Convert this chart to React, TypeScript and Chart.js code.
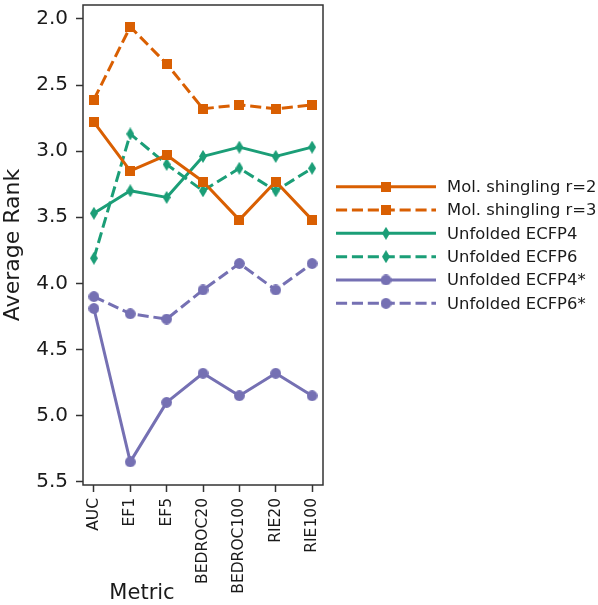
import React, { useEffect, useRef } from 'react';
import { Chart, registerables } from 'chart.js';

Chart.register(...registerables);

// ---- data ----
const categories = ['AUC', 'EF1', 'EF5', 'BEDROC20', 'BEDROC100', 'RIE20', 'RIE100'];
const yTickValues = [2.0, 2.5, 3.0, 3.5, 4.0, 4.5, 5.0, 5.5];

const molShinglingR2 = [2.78, 3.15, 3.03, 3.23, 3.52, 3.23, 3.52];
const molShinglingR3 = [2.61, 2.06, 2.34, 2.68, 2.65, 2.68, 2.65];
const unfoldedECFP4 = [3.47, 3.3, 3.35, 3.04, 2.97, 3.04, 2.97];
const unfoldedECFP6 = [3.81, 2.87, 3.1, 3.3, 3.13, 3.3, 3.13];
const unfoldedECFP4Star = [4.19, 5.35, 4.9, 4.68, 4.85, 4.68, 4.85];
const unfoldedECFP6Star = [4.1, 4.23, 4.27, 4.05, 3.85, 4.05, 3.85];

const seriesLabels = [
  'Mol. shingling r=2',
  'Mol. shingling r=3',
  'Unfolded ECFP4',
  'Unfolded ECFP6',
  'Unfolded ECFP4*',
  'Unfolded ECFP6*',
];

const ORANGE = '#d95f02';
const GREEN = '#1b9e77';
const PURPLE = '#7570b3';
const FONT = '"DejaVu Sans", sans-serif';
const AXIS = '#333333';
const TEXT = '#1a1a1a';
const DASH = [11.1, 4.8];
const LW = 3;

function makeMarker(kind: string, color: string): HTMLCanvasElement {
  const c = document.createElement('canvas');
  let w = 11, h = 11;
  if (kind === 'square') { w = 10; h = 10; }
  if (kind === 'diamond') { w = 8; h = 13; }
  c.width = w; c.height = h;
  const g = c.getContext('2d')!;
  g.fillStyle = color;
  g.beginPath();
  if (kind === 'square') {
    g.rect(0, 0, w, h);
  } else if (kind === 'diamond') {
    g.moveTo(w / 2, 0);
    g.lineTo(w, h / 2);
    g.lineTo(w / 2, h);
    g.lineTo(0, h / 2);
    g.closePath();
  } else {
    g.arc(w / 2, h / 2, 5.4, 0, Math.PI * 2);
  }
  g.fill();
  return c;
}

const decorPlugin = {
  id: 'decor',
  afterDatasetsDraw(chart: any) {
    const { ctx, chartArea: a } = chart;
    ctx.save();
    ctx.strokeStyle = AXIS;
    ctx.lineWidth = 1.5;
    ctx.setLineDash([]);
    ctx.strokeRect(a.left, a.top, a.right - a.left, a.bottom - a.top);
    ctx.restore();
  },
  afterDraw(chart: any) {
    const { ctx, chartArea: a } = chart;
    const datasets = chart.data.datasets;
    const n = datasets.length;
    const rowH = 23.33;
    const cy = (a.top + a.bottom) / 2;
    ctx.save();
    datasets.forEach((ds: any, i: number) => {
      const y = cy + (i - (n - 1) / 2) * rowH;
      const x0 = a.right + 13;
      const x1 = a.right + 113;
      ctx.beginPath();
      ctx.strokeStyle = ds.borderColor;
      ctx.lineWidth = LW;
      ctx.lineCap = 'butt';
      ctx.setLineDash(ds.borderDash || []);
      ctx.moveTo(x0, y);
      ctx.lineTo(x1, y);
      ctx.stroke();
      ctx.setLineDash([]);
      const m: HTMLCanvasElement = ds.pointStyle;
      ctx.drawImage(m, (x0 + x1) / 2 - m.width / 2, y - m.height / 2);
      ctx.fillStyle = TEXT;
      ctx.font = `16.4px ${FONT}`;
      ctx.textAlign = 'left';
      ctx.textBaseline = 'middle';
      ctx.fillText(ds.label, a.right + 124, y + 1);
    });
    // x-axis title
    ctx.fillStyle = TEXT;
    ctx.font = `21px ${FONT}`;
    ctx.textAlign = 'center';
    ctx.textBaseline = 'alphabetic';
    ctx.fillText('Metric', a.left + 59, 599);
    ctx.restore();
  },
};

export default function App() {
  const ref = useRef<HTMLCanvasElement | null>(null);

  useEffect(() => {
    if (!ref.current) return;
    const mk = (label: string, values: number[], color: string, marker: string, dashed: boolean) => ({
      label,
      data: values.map((v, i) => ({ x: i, y: v })),
      borderColor: color,
      backgroundColor: color,
      borderWidth: LW,
      borderDash: dashed ? DASH : [],
      borderCapStyle: 'butt',
      borderJoinStyle: 'round',
      pointStyle: makeMarker(marker, color),
      pointRadius: 5,
      pointHoverRadius: 5,
      pointBorderWidth: 0,
      tension: 0,
      fill: false,
    });
    const chart = new Chart(ref.current, {
      type: 'line',
      data: {
        datasets: [
          mk(seriesLabels[0], molShinglingR2, ORANGE, 'square', false),
          mk(seriesLabels[1], molShinglingR3, ORANGE, 'square', true),
          mk(seriesLabels[2], unfoldedECFP4, GREEN, 'diamond', false),
          mk(seriesLabels[3], unfoldedECFP6, GREEN, 'diamond', true),
          mk(seriesLabels[4], unfoldedECFP4Star, PURPLE, 'circle', false),
          mk(seriesLabels[5], unfoldedECFP6Star, PURPLE, 'circle', true),
        ] as any,
      },
      options: {
        responsive: false,
        devicePixelRatio: 1,
        animation: false,
        events: [],
        layout: { padding: { left: 0, top: 4, right: 275, bottom: 0 } },
        plugins: {
          legend: { display: false },
          tooltip: { enabled: false },
        },
        scales: {
          x: {
            type: 'linear',
            min: -0.3,
            max: 6.3,
            afterBuildTicks: (s: any) => {
              s.ticks = categories.map((_, i) => ({ value: i }));
            },
            afterFit: (s: any) => {
              s.height = 120;
              s.paddingLeft = 0;
              s.paddingRight = 0;
            },
            grid: {
              display: true,
              drawOnChartArea: false,
              drawTicks: true,
              tickLength: 7,
              tickWidth: 1.5,
              tickColor: AXIS,
              color: AXIS,
            },
            border: { display: false },
            ticks: {
              autoSkip: false,
              minRotation: 90,
              maxRotation: 90,
              padding: 6,
              color: TEXT,
              font: { family: FONT, size: 15.5 },
              callback: (v: any) => categories[v] ?? '',
            },
          },
          y: {
            type: 'linear',
            reverse: true,
            min: 1.895,
            max: 5.525,
            afterBuildTicks: (s: any) => {
              s.ticks = yTickValues.map((v) => ({ value: v }));
            },
            afterFit: (s: any) => {
              s.width = 83;
              s.paddingTop = 0;
              s.paddingBottom = 0;
            },
            grid: {
              display: true,
              drawOnChartArea: false,
              drawTicks: true,
              tickLength: 7,
              tickWidth: 1.5,
              tickColor: AXIS,
              color: AXIS,
            },
            border: { display: false },
            title: {
              display: true,
              text: 'Average Rank',
              color: TEXT,
              font: { family: FONT, size: 22 },
              padding: { top: 0, bottom: 0 },
            },
            ticks: {
              padding: 8,
              color: TEXT,
              font: { family: FONT, size: 20 },
              callback: (v: any) => Number(v).toFixed(1),
            },
          },
        },
      },
      plugins: [decorPlugin],
    } as any);
    return () => chart.destroy();
  }, []);

  return (
    <div style={{ position: 'absolute', left: 0, top: 0, width: 598, height: 605, background: '#fff' }}>
      <canvas ref={ref} width={598} height={605} style={{ width: 598, height: 605, display: 'block' }} />
    </div>
  );
}
